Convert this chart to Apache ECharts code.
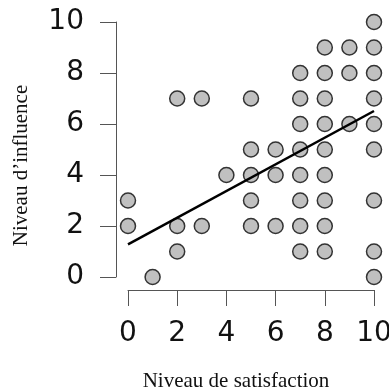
<!DOCTYPE html>
<html>
<head>
<meta charset="utf-8">
<script src="https://cdn.jsdelivr.net/npm/echarts@6/dist/echarts.min.js"></script>
<style>html,body{margin:0;padding:0;background:#fff}#c{width:389px;height:391px}</style>
</head>
<body>
<div id="c"></div>
<script>
// satisfaction (x) values and influence (y) values of each respondent
const satisfaction = [1,10, 2,7,8,10, 0,2,3,5,6,7,8, 0,5,7,8,10, 4,5,6,7,8, 5,6,7,8,10, 7,8,9,10, 2,3,5,7,8,10, 7,8,9,10, 8,9,10, 10];
const influence    = [0,0, 1,1,1,1, 2,2,2,2,2,2,2, 3,3,3,3,3, 4,4,4,4,4, 5,5,5,5,5, 6,6,6,6, 7,7,7,7,7,7, 8,8,8,8, 9,9,9, 10];
// fitted trend line endpoints
const fitX = [0, 10];
const fitY = [1.28, 6.51];
const tickValues = [0, 2, 4, 6, 8, 10];
const xTitle = 'Niveau de satisfaction';
const yTitle = 'Niveau d\u2019influence';

const points = satisfaction.map((x, i) => [x, influence[i]]);
const fit = fitX.map((x, i) => [x, fitY[i]]);

const chart = echarts.init(document.getElementById('c'), null, {renderer: 'canvas'});
const axisCommon = {
  type: 'value', min: 0, max: 10, interval: 2,
  splitLine: {show: false},
  axisLine: {show: true, onZero: false, lineStyle: {color: '#555', width: 1}},
  axisTick: {show: true, length: 16, lineStyle: {color: '#555', width: 1}},
  axisLabel: {fontFamily: 'DejaVu Sans', fontSize: 28, color: '#111'},
  nameLocation: 'middle'
};
chart.setOption({
  animation: false,
  grid: {left: 128, right: 15, top: 22, bottom: 114, containLabel: false, outerBoundsMode: 'none'},
  xAxis: Object.assign({}, axisCommon, {
    offset: 13, name: xTitle, nameGap: 81,
    nameTextStyle: {fontFamily: 'Liberation Serif', fontSize: 21, color: '#111', padding: [0, 30, 0, 0]},
    axisLabel: Object.assign({}, axisCommon.axisLabel, {margin: 30})
  }),
  yAxis: Object.assign({}, axisCommon, {
    offset: 12, name: yTitle, nameGap: 84,
    nameTextStyle: {fontFamily: 'Liberation Serif', fontSize: 21, color: '#111', padding: [0, 32, 0, 0]},
    axisLabel: Object.assign({}, axisCommon.axisLabel, {margin: 32})
  }),
  series: [
    {
      type: 'scatter', data: points, symbolSize: 15,
      itemStyle: {color: '#c0c0c0', borderColor: '#333', borderWidth: 1.5, opacity: 1},
      z: 2
    },
    {
      type: 'line', data: fit, symbol: 'none',
      lineStyle: {color: '#000', width: 2.5}, z: 3
    }
  ]
});
</script>
</body>
</html>
